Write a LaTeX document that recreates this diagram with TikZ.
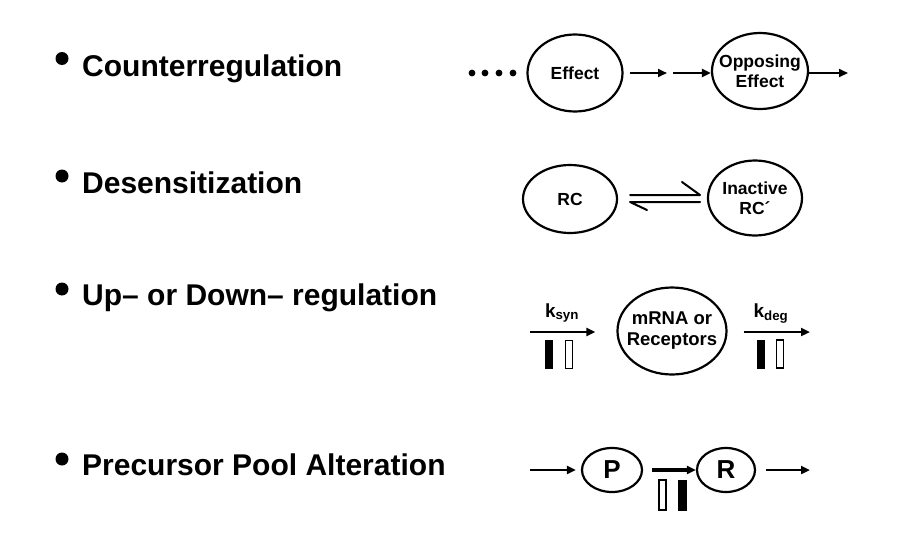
\documentclass[tikz,border=0pt]{standalone}
\usepackage{fontspec}
\setmainfont{Liberation Sans}
\usetikzlibrary{shapes.geometric,arrows.meta}
\begin{document}
\begin{tikzpicture}[x=1pt,y=-1pt,
  heading/.style={anchor=base west,inner sep=0pt,font=\fontsize{30}{32}\selectfont\bfseries},
  oval/.style={draw,line width=2.2pt,ellipse,inner sep=0pt},
  otext/.style={inner sep=0pt,align=center,font=\fontsize{17.5}{19.5}\selectfont\bfseries},
  arr/.style={line width=2.8pt,-{Triangle[length=9pt,width=8pt]}},
  harp/.style={line width=2pt,line cap=round,line join=round},
  kbl/.style={inner sep=0pt,anchor=base,font=\fontsize{19}{21}\selectfont\bfseries},
  fbar/.style={draw,fill=black,line width=0.8pt,minimum width=7pt,minimum height=28pt,inner sep=0pt},
  obar/.style={draw,fill=white,line width=1.2pt,minimum width=7pt,minimum height=28pt,inner sep=0pt},
  bul/.style={fill=black}]
\useasboundingbox (0,0) rectangle (898,538);
% headings
\fill[bul] (62,58.5) circle (6.5);
\node[heading] (h1) at (82,76) {Counterregulation};
\fill[bul] (62,176) circle (6.5);
\node[heading] (h2) at (82,193) {Desensitization};
\fill[bul] (62,289) circle (6.5);
\node[heading] (h3) at (82,305) {Up– or Down– regulation};
\fill[bul] (62,459) circle (6.5);
\node[heading] (h4) at (82,475) {Precursor Pool Alteration};
% row 1
\foreach \x in {472,485,499,513} \fill (\x,73) circle (3.4);
\node[oval,minimum width=95pt,minimum height=77pt] (eff) at (575,73) {};
\node[otext] (efft) at (eff) {Effect};
\node[oval,minimum width=96pt,minimum height=76pt] (opp) at (760,71) {};
\node[otext] (oppt) at (opp) {Opposing\\Effect};
\coordinate (m1) at (667,73);
\coordinate (m2) at (673,73);
\coordinate (e1) at (848,73);
\draw[arr,shorten <=6pt] (eff.east |- m1) -- (m1);
\draw[arr] (m2) -- (opp.west |- m2);
\draw[arr] (opp.east |- e1) -- (e1);
% row 2
\node[oval,minimum width=94pt,minimum height=68pt] (rc) at (570,199) {};
\node[otext] (rct) at (rc) {RC};
\node[oval,minimum width=94pt,minimum height=75pt] (inact) at (755,198) {};
\node[otext] (inactt) at (inact) {Inactive\\RC\textasciiacute};
\coordinate (ha) at (630,195);
\coordinate (hb) at (700,195);
\coordinate (hc) at (700,202);
\coordinate (hd) at (630,202);
\draw[harp] (ha) -- (hb) -- ++(-18,-13);
\draw[harp] (hc) -- (hd) -- ++(17,8);
% row 3
\node[oval,minimum width=109pt,minimum height=87pt] (mr) at (672,331) {};
\node[otext,font=\fontsize{18.5}{21}\selectfont\bfseries] (mrt) at (mr) {mRNA or\\Receptors};
\coordinate (s0) at (530,332);
\coordinate (d1) at (810,332);
\draw[arr,line width=2.4pt,shorten >=21pt] (s0) -- (mr.west |- s0);
\draw[arr,line width=2.4pt,shorten <=16pt] (mr.east |- d1) -- (d1);
\node[kbl] (ks) at (562,317) {k\textsubscript{syn}};
\node[kbl] (kd) at (771,317) {k\textsubscript{deg}};
\node[fbar] (b1) at (549,354.5) {};
\node[obar] (b2) at (569,354.5) {};
\node[fbar] (b3) at (761,354) {};
\node[obar] (b4) at (780,354) {};
% row 4
\node[oval,minimum width=60pt,minimum height=44pt] (P) at (612,470) {};
\node[otext,font=\fontsize{26}{28}\selectfont\bfseries] (Pt) at (P) {P};
\node[oval,minimum width=58pt,minimum height=44pt] (R) at (726,470) {};
\node[otext,font=\fontsize{26}{28}\selectfont\bfseries] (Rt) at (R) {R};
\coordinate (p0) at (530,470);
\coordinate (r1) at (810,470);
\draw[arr,line width=2.4pt,shorten >=5pt] (p0) -- (P.west |- p0);
\draw[arr,line width=3.2pt,shorten <=9pt] (P.east) -- (R.west);
\draw[arr,line width=2.4pt,shorten <=10pt] (R.east |- r1) -- (r1);
\node[obar,minimum height=30pt] (b5) at (662.5,495) {};
\node[fbar,minimum width=8pt,minimum height=30pt] (b6) at (682.5,495) {};
\end{tikzpicture}
\end{document}
